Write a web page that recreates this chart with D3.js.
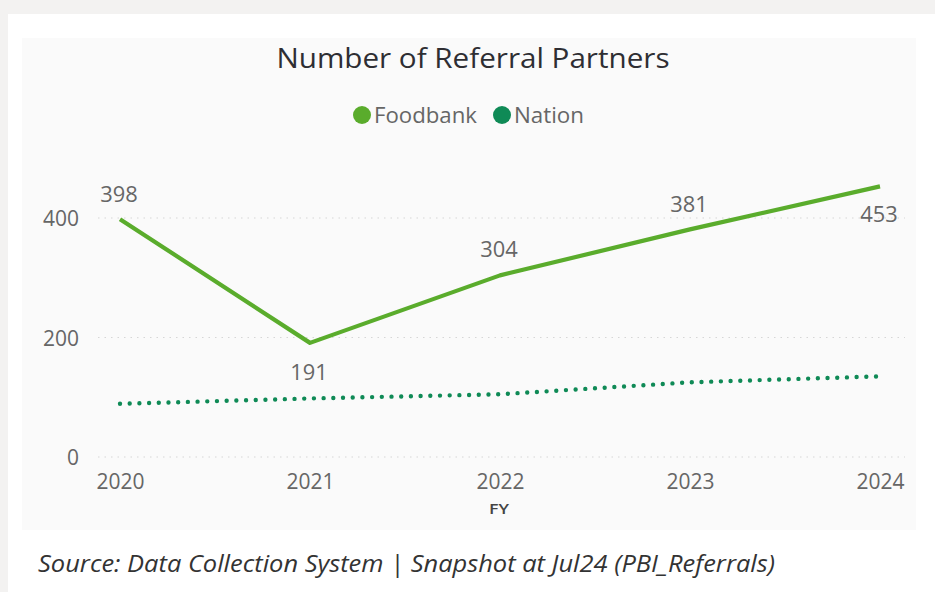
<!DOCTYPE html>
<html>
<head>
<meta charset="utf-8">
<script src="https://cdn.jsdelivr.net/npm/d3@7"></script>
<style>
  html, body { margin: 0; padding: 0; background: #f3f2f1; }
  svg { display: block; }
</style>
</head>
<body>
<svg id="chart" width="935" height="592"></svg>
<script>
// Fiscal years and series values
const years = ["2020", "2021", "2022", "2023", "2024"];
const foodbank = [398, 191, 304, 381, 453];
const nation = [89, 98, 105, 125, 135];
const yTicks = [0, 200, 400];
const seriesNames = ["Foodbank", "Nation"];
const seriesColors = ["#5aac2c", "#0f8a56"];

const svg = d3.select("#chart");
const W = 935, H = 592;
const FONT = "'Open Sans', sans-serif";
const DIGIT_W = 12; // narrow digit width used for numeric labels

// page card and plot panel
svg.append("rect").attr("x", 8).attr("y", 14).attr("width", W - 8).attr("height", H - 14).attr("fill", "#ffffff");
svg.append("rect").attr("x", 22).attr("y", 38).attr("width", 894).attr("height", 492).attr("fill", "#fafafa");

const x = d3.scalePoint().domain(years).range([120, 880]);
const y = d3.scaleLinear().domain([0, 400]).range([457, 218]);

// dotted gridlines
svg.append("g").selectAll("line").data(yTicks).join("line")
  .attr("x1", 98).attr("x2", 905)
  .attr("y1", d => y(d)).attr("y2", d => y(d))
  .attr("stroke", "#d6d6d6").attr("stroke-width", 1.2)
  .attr("stroke-dasharray", "1.5 5");

// y axis labels
const yAxis = d3.axisLeft(y).tickValues(yTicks).tickSize(0).tickPadding(0);
const gy = svg.append("g").attr("transform", "translate(79,0)").call(yAxis);
gy.select(".domain").remove();
gy.selectAll("text").attr("font-family", FONT).attr("font-size", 22).attr("fill", "#666")
  .attr("dy", "0.36em")
  .attr("textLength", d => String(d).length * DIGIT_W).attr("lengthAdjust", "spacingAndGlyphs");

// x axis labels
const xAxis = d3.axisBottom(x).tickSize(0).tickPadding(0);
const gx = svg.append("g").attr("transform", "translate(0,489)").call(xAxis);
gx.select(".domain").remove();
gx.selectAll("text").attr("font-family", FONT).attr("font-size", 22).attr("fill", "#666")
  .attr("dy", 0).attr("y", 0)
  .attr("textLength", d => d.length * DIGIT_W).attr("lengthAdjust", "spacingAndGlyphs");

svg.append("text").attr("x", 499).attr("y", 514).attr("text-anchor", "middle")
  .attr("font-family", FONT).attr("font-size", 15).attr("font-weight", 600).attr("fill", "#444")
  .attr("textLength", 20).attr("lengthAdjust", "spacingAndGlyphs").text("FY");

// series lines
const line = d3.line().x((d, i) => x(years[i])).y(d => y(d));
svg.append("path").datum(nation).attr("d", line)
  .attr("fill", "none").attr("stroke", seriesColors[1]).attr("stroke-width", 4.4)
  .attr("stroke-linecap", "round").attr("stroke-dasharray", "0 9.7");
svg.append("path").datum(foodbank).attr("d", line)
  .attr("fill", "none").attr("stroke", seriesColors[0]).attr("stroke-width", 4.2)
  .attr("stroke-linejoin", "round");

// data labels for Foodbank (baseline offsets above/below each point)
const labelDy = [-17, 37, -18, -17, 36];
svg.append("g").selectAll("text").data(foodbank).join("text")
  .attr("x", (d, i) => x(years[i]) - 1)
  .attr("y", (d, i) => y(d) + labelDy[i])
  .attr("text-anchor", "middle")
  .attr("font-family", FONT).attr("font-size", 21).attr("fill", "#666")
  .attr("textLength", d => String(d).length * 12.5).attr("lengthAdjust", "spacingAndGlyphs")
  .text(d => d);

// title
svg.append("text").attr("x", 473).attr("y", 68).attr("text-anchor", "middle")
  .attr("font-family", FONT).attr("font-size", 28).attr("fill", "#2e2e33")
  .attr("textLength", 393).attr("lengthAdjust", "spacingAndGlyphs")
  .text("Number of Referral Partners");

// legend
const legendX = [362, 502];
const legendW = [103, 70];
const lg = svg.append("g").selectAll("g").data(seriesNames).join("g")
  .attr("transform", (d, i) => `translate(${legendX[i]},115)`);
lg.append("circle").attr("r", 9).attr("fill", (d, i) => seriesColors[i]);
lg.append("text").attr("x", 12).attr("y", 8)
  .attr("font-family", FONT).attr("font-size", 21).attr("fill", "#666")
  .attr("textLength", (d, i) => legendW[i]).attr("lengthAdjust", "spacingAndGlyphs")
  .text(d => d);

// source note
svg.append("text").attr("x", 38).attr("y", 572)
  .attr("font-family", FONT).attr("font-style", "italic").attr("font-size", 24).attr("fill", "#333")
  .attr("textLength", 737).attr("lengthAdjust", "spacingAndGlyphs")
  .text("Source: Data Collection System | Snapshot at Jul24 (PBI_Referrals)");
</script>
</body>
</html>
